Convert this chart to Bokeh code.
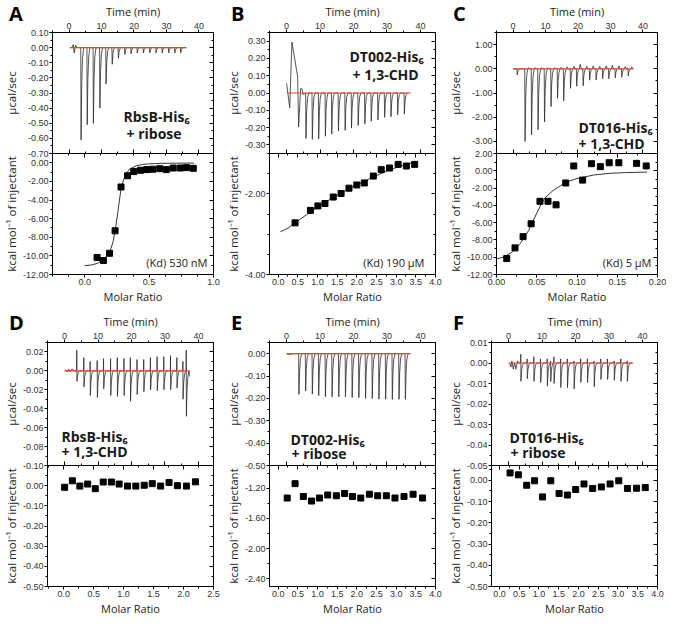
import numpy as np
from bokeh.plotting import figure
from bokeh.models import Range1d, LinearAxis, FixedTicker, Label, NumeralTickFormatter, CustomLabelingPolicy, Div
from bokeh.layouts import row, column
from bokeh.embed import file_html
from bokeh.resources import INLINE

# ---------------- data ----------------
time_ticks = [0, 10, 20, 30, 40]

# Panel A: RbsB-His6 + ribose
a_lead_t = [0.3, 1.0, 1.3, 1.6, 2.0, 2.6]
a_lead_v = [0.0, 0.0, 0.02, -0.035, 0.015, 0.0]
a_inj_t = [3.6, 5.5, 7.4, 9.4, 11.3, 13.2, 15.1, 17.1, 19.0, 20.9, 22.8, 24.8, 26.7, 28.6, 30.6, 32.5, 34.3]
a_inj_peak = [-0.61, -0.51, -0.50, -0.40, -0.24, -0.11, -0.07, -0.045, -0.04, -0.035, -0.035,
              -0.035, -0.035, -0.035, -0.035, -0.035, -0.035]
a_trace_end = 36.2
a_base_t = [0.2, 36.1]
a_base_v = [0.0, 0.0]
a_mr = [0.096, 0.145, 0.193, 0.236, 0.282, 0.333, 0.381, 0.434, 0.482, 0.530, 0.583, 0.634, 0.687, 0.742, 0.790, 0.843]
a_dh = [-10.17, -10.50, -9.72, -7.30, -2.60, -1.39, -0.94, -0.80, -0.73, -0.69, -0.63, -0.73, -0.56, -0.56, -0.52, -0.59]
a_fit_mr = [0.0, 0.05, 0.10, 0.15, 0.18, 0.20, 0.22, 0.24, 0.26, 0.28, 0.30, 0.32, 0.35, 0.40, 0.45, 0.50, 0.60, 0.70, 0.85]
a_fit_dh = [-11.05, -10.98, -10.80, -10.35, -9.85, -9.35, -8.50, -7.00, -5.00, -3.00, -1.90, -1.20, -0.65,
            -0.33, -0.18, -0.11, -0.06, -0.04, -0.03]

# Panel B: DT002-His6 + 1,3-CHD
b_lead_t = [0.0, 0.95, 1.6, 3.3, 3.6, 4.2, 4.5, 5.0]
b_lead_v = [0.055, -0.085, 0.295, 0.095, -0.197, 0.025, 0.028, -0.01]
b_inj_t = [5.7, 7.6, 9.5, 11.5, 13.4, 15.4, 17.4, 19.3, 21.3, 23.3, 25.2, 27.2, 29.2, 31.1, 33.1, 35.1]
b_inj_peak = [-0.263, -0.268, -0.266, -0.25, -0.238, -0.22, -0.216, -0.203, -0.188, -0.178, -0.163,
              -0.156, -0.141, -0.137, -0.126, -0.122]
b_trace_end = 36.4
b_base_t = [0.0, 37.1]
b_base_v = [0.0, 0.0]
b_mr = [0.43, 0.82, 1.01, 1.19, 1.40, 1.60, 1.80, 2.00, 2.19, 2.42, 2.62, 2.83, 3.05, 3.26, 3.47]
b_dh = [-2.72, -2.41, -2.30, -2.24, -2.08, -1.99, -1.86, -1.78, -1.73, -1.56, -1.40, -1.36, -1.27, -1.31, -1.27]
b_fit_mr = [0.06, 0.25, 0.5, 0.75, 1.0, 1.25, 1.5, 1.75, 2.0, 2.25, 2.5, 2.75, 3.0, 3.25, 3.5]
b_fit_dh = [-2.94, -2.85, -2.67, -2.50, -2.33, -2.18, -2.03, -1.90, -1.78, -1.66, -1.55, -1.44, -1.35, -1.27, -1.20]

# Panel C: DT016-His6 + 1,3-CHD
c_lead_t = [0.0]
c_lead_v = [0.0]
c_inj_t = [1.2, 3.6, 5.6, 7.6, 9.6, 11.6, 13.6, 15.5, 17.6, 19.5, 21.5, 23.5, 25.5, 27.5, 29.4, 31.4, 33.4, 35.4]
c_inj_peak = [-0.25, -3.0, -2.73, -2.52, -2.2, -1.56, -1.22, -1.32, -0.81, -0.72, -0.70, -0.47, -0.46,
              -0.41, -0.41, -0.37, -0.35, -0.30]
c_bump = [0.0, 0.05, 0.05, 0.05, 0.05, 0.05, 0.06, 0.08, 0.1, 0.18, 0.1, 0.12, 0.1, 0.12, 0.15, 0.12, 0.1, 0.08]
c_trace_end = 37.0
c_base_t = [0.0, 37.1]
c_base_v = [0.0, 0.0]
c_mr = [0.0127, 0.023, 0.033, 0.043, 0.054, 0.064, 0.074, 0.086, 0.096, 0.107, 0.118, 0.129, 0.140, 0.152, 0.174, 0.186]
c_dh = [-10.15, -8.92, -7.62, -6.13, -3.53, -3.53, -3.94, -1.41, 0.56, -1.08, 0.82, 0.48, 0.93, 0.93, 0.86, 0.56]
c_fit_mr = [0.0, 0.01, 0.02, 0.03, 0.04, 0.045, 0.05, 0.055, 0.06, 0.07, 0.08, 0.09, 0.10, 0.12, 0.14, 0.16, 0.187]
c_fit_dh = [-10.2, -9.95, -9.35, -8.35, -6.9, -5.9, -4.9, -3.95, -3.15, -2.3, -1.7, -1.2, -0.9, -0.5, -0.3, -0.21, -0.15]

# Panel D: RbsB-His6 + 1,3-CHD
d_lead_t = [0.2, 0.8, 1.2, 1.7, 2.2, 2.8]
d_lead_v = [0.001, -0.001, 0.002, -0.001, 0.002, 0.0]
d_inj_t = [3.6, 5.7, 7.6, 9.7, 11.6, 13.7, 15.7, 17.7, 19.6, 21.6, 23.6, 25.6, 27.6, 29.6, 31.6, 33.5, 35.3, 36.3]
d_down = [-0.011, -0.017, -0.026, -0.028, -0.019, -0.026, -0.027, -0.026, -0.032, -0.025, -0.022, -0.020,
          -0.021, -0.020, -0.020, -0.018, -0.030, -0.048]
d_up = [0.022, 0.014, 0.010, 0.011, 0.013, 0.013, 0.014, 0.013, 0.014, 0.012, 0.012, 0.014, 0.015, 0.015,
        0.016, 0.014, 0.010, 0.022]
d_trace_end = 37.3
d_trace_end_v = -0.006
d_base_t = [0.0, 37.3]
d_base_v = [0.0, 0.0]
d_mr = [0.016, 0.145, 0.27, 0.40, 0.527, 0.66, 0.796, 0.925, 1.065, 1.204, 1.344, 1.478, 1.618, 1.758, 1.898, 2.048, 2.199]
d_dh = [-0.008, 0.024, -0.002, 0.008, -0.015, 0.018, 0.018, 0.008, -0.002, -0.002, 0.002, 0.010, -0.002,
        0.016, 0.000, -0.002, 0.019]

# Panel E: DT002-His6 + ribose
e_lead_t = [0.0, 1.0, 2.0]
e_lead_v = [0.0, -0.003, 0.0]
e_inj_t = [3.6, 5.6, 7.6, 9.5, 11.5, 13.5, 15.5, 17.5, 19.5, 21.5, 23.5, 25.5, 27.5, 29.5, 31.5, 33.5, 35.4]
e_inj_peak = [-0.182, -0.167, -0.181, -0.188, -0.193, -0.193, -0.193, -0.193, -0.196, -0.197, -0.2, -0.2,
              -0.203, -0.203, -0.204, -0.204, -0.204]
e_trace_end = 36.6
e_base_t = [0.0, 37.1]
e_base_v = [0.0, 0.0]
e_mr = [0.23, 0.43, 0.64, 0.85, 1.05, 1.26, 1.48, 1.69, 1.89, 2.10, 2.32, 2.53, 2.75, 2.97, 3.20, 3.43, 3.67]
e_dh = [-1.33, -1.14, -1.31, -1.37, -1.33, -1.29, -1.30, -1.27, -1.31, -1.33, -1.28, -1.30, -1.30, -1.33,
        -1.31, -1.28, -1.33]

# Panel F: DT016-His6 + ribose
f_lead_t = [0.3, 0.7, 1.0, 1.4, 1.8, 2.2, 2.7, 3.1]
f_lead_v = [0.0, -0.002, 0.001, -0.003, 0.0, -0.003, 0.001, 0.0]
f_inj_t = [3.6, 5.5, 7.5, 9.5, 11.5, 12.5, 13.5, 15.5, 17.5, 19.5, 21.5, 23.5, 25.5, 27.5, 29.5, 31.5, 33.5, 35.4]
f_down = [-0.0089, -0.0076, -0.0089, -0.0095, -0.0113, -0.009, -0.010, -0.012, -0.012, -0.0127, -0.0095,
          -0.0095, -0.0116, -0.008, -0.008, -0.0084, -0.0089, -0.0089]
f_up = [0.0043, 0.002, 0.003, 0.002, 0.002, 0.001, 0.003, 0.002, 0.002, 0.001, 0.002, 0.002, 0.001, 0.002,
        0.002, 0.001, 0.002, 0.001]
f_trace_end = 37.0
f_base_t = [0.0, 37.2]
f_base_v = [0.0, 0.0]
f_mr = [0.27, 0.48, 0.69, 0.89, 1.09, 1.30, 1.51, 1.72, 1.93, 2.14, 2.36, 2.58, 2.80, 3.02, 3.24, 3.47, 3.69]
f_dh = [0.035, 0.026, -0.023, -0.002, -0.078, -0.002, -0.062, -0.069, -0.043, -0.017, -0.038, -0.031,
        -0.017, -0.002, -0.038, -0.037, -0.034]

# ---------------- styling / layout ----------------
FONT_TICK = "Liberation Sans"
FONT_LAB = "Open Sans"
TRACE_COL = "#2b2b2b"
BASE_COL = "#e4462c"
FW, FH = 166, 123
LB, RB = 47, 9
JOIN = 8
TIME_RANGE = (-5.1, 44.5)
LET_W, LET_H = 28, 28

# normalised injection-peak profile (time offset, fraction of peak)
SPIKE_DT = [0.0, 0.1, 0.3, 0.55, 0.9]
SPIKE_FR = [0.0, 1.0, 0.4, 0.12, 0.0]


def thermogram(lead_t, lead_v, inj_t, down, end_t, end_v=0.0, up=None, bump=None):
    ts, vs = list(lead_t), list(lead_v)
    for i, t0 in enumerate(inj_t):
        ts.append(t0); vs.append(0.0)
        if up is not None:
            ts.append(t0 + 0.05); vs.append(up[i])
        for dt, fr in zip(SPIKE_DT[1:], SPIKE_FR[1:]):
            ts.append(t0 + dt); vs.append(down[i] * fr)
        if bump is not None:
            ts.append(t0 + 1.2); vs.append(bump[i])
            ts.append(t0 + 1.5); vs.append(0.0)
    ts.append(end_t); vs.append(end_v)
    return ts, vs


def minors(lo, hi, step, majors):
    out = []
    k0 = int(np.ceil(lo / step - 1e-9)); k1 = int(np.floor(hi / step + 1e-9))
    for k in range(k0, k1 + 1):
        v = round(k * step, 6)
        if all(abs(v - m) > 1e-9 for m in majors):
            out.append(v)
    return out


def main_axis(ax, label_standoff=1):
    ax.axis_line_color = "black"
    ax.axis_line_width = 1
    ax.major_tick_out = 3
    ax.major_tick_in = 0
    ax.minor_tick_out = 2
    ax.minor_tick_in = 0
    ax.major_tick_line_color = "black"
    ax.minor_tick_line_color = "black"
    ax.major_label_text_font = FONT_TICK
    ax.major_label_text_font_size = "9px"
    ax.major_label_text_color = "#333333"
    ax.major_label_standoff = 1
    ax.axis_label_text_font = FONT_LAB
    ax.axis_label_text_font_style = "normal"
    ax.axis_label_text_font_size = "11.5px"
    ax.axis_label_text_color = "#222222"
    ax.axis_label_standoff = label_standoff


def hidden_axis(p, ticker, side):
    # tick marks only (inward), no labels drawn
    ax = LinearAxis(ticker=ticker,
                    major_label_policy=CustomLabelingPolicy(code="for (const i of indices) indices.unset(i)"))
    ax.axis_line_color = None
    ax.major_tick_in = 4
    ax.major_tick_out = 0
    ax.minor_tick_in = 2
    ax.minor_tick_out = 0
    ax.major_tick_line_color = "black"
    ax.minor_tick_line_color = "black"
    ax.major_label_text_font_size = "1px"
    ax.major_label_standoff = 0
    p.add_layout(ax, side)


def prep(p):
    p.grid.visible = False
    p.outline_line_color = "black"
    p.outline_line_width = 1
    p.background_fill_color = None
    p.border_fill_color = None


def letter_div(text, top):
    return Div(text=text, width=LET_W, height=LET_H,
               margin=(top, 0, -(LET_H + top), LB - 38),
               styles={"font-family": "'Open Sans', sans-serif", "font-size": "20px",
                       "font-weight": "bold", "color": "black", "line-height": "27px",
                       "padding": "0", "overflow": "visible"})


def build(cfg, top_border, letter_top):
    # ---- upper: raw thermogram ----
    pt = figure(width=LB + FW + RB, height=top_border + FH + JOIN,
                x_range=Range1d(*TIME_RANGE), y_range=Range1d(*cfg["ty"]),
                x_axis_location=None, y_axis_location=None,
                output_backend="svg", toolbar_location=None,
                min_border_left=LB, min_border_right=RB,
                min_border_top=top_border, min_border_bottom=JOIN)
    prep(pt)
    tt = FixedTicker(ticks=time_ticks, minor_ticks=minors(TIME_RANGE[0], TIME_RANGE[1], 5, time_ticks))
    ax = LinearAxis(ticker=tt, formatter=NumeralTickFormatter(format="0"), axis_label="Time (min)")
    main_axis(ax, 1)
    ax.axis_label_text_font_size = "11px"
    pt.add_layout(ax, "above")
    hidden_axis(pt, tt, "below")
    yt = FixedTicker(ticks=cfg["tyt"], minor_ticks=minors(cfg["ty"][0], cfg["ty"][1], cfg["tym"], cfg["tyt"]))
    ay = LinearAxis(ticker=yt, formatter=NumeralTickFormatter(format="0.00"), axis_label="µcal/sec")
    main_axis(ay, 1 + cfg["textra"])
    pt.add_layout(ay, "left")
    hidden_axis(pt, yt, "right")
    ts, vs = cfg["trace"]
    pt.line(ts, vs, line_color=TRACE_COL, line_width=0.8)
    pt.line(cfg["base"][0], cfg["base"][1], line_color=BASE_COL, line_width=1.2)
    for text, x, y in cfg["ann"]:
        pt.add_layout(Label(x=x, y=y, x_units="screen", y_units="screen", text=text,
                            text_font=FONT_LAB, text_font_size="14px", text_font_style="bold",
                            text_color="#1a1a1a", text_baseline="alphabetic", text_align="left"))

    # ---- lower: integrated heats ----
    pb = figure(width=LB + FW + RB, height=JOIN + FH + 30,
                x_range=Range1d(*cfg["bx"]), y_range=Range1d(*cfg["by"]),
                x_axis_location=None, y_axis_location=None,
                output_backend="svg", toolbar_location=None,
                min_border_left=LB, min_border_right=RB,
                min_border_top=JOIN, min_border_bottom=30,
                margin=(-2 * JOIN, 0, 0, 0))
    prep(pb)
    xt = FixedTicker(ticks=cfg["bxt"], minor_ticks=minors(cfg["bx"][0], cfg["bx"][1], cfg["bxm"], cfg["bxt"]))
    bx = LinearAxis(ticker=xt, formatter=NumeralTickFormatter(format=cfg["bxf"]), axis_label="Molar Ratio")
    main_axis(bx, 1)
    bx.axis_label_text_font_size = "11px"
    pb.add_layout(bx, "below")
    hidden_axis(pb, xt, "above")
    byt = FixedTicker(ticks=cfg["byt"], minor_ticks=minors(cfg["by"][0], cfg["by"][1], cfg["bym"], cfg["byt"]))
    by = LinearAxis(ticker=byt, formatter=NumeralTickFormatter(format="0.00"),
                    axis_label="kcal mol⁻¹ of injectant")
    main_axis(by, 1 + cfg["bextra"])
    pb.add_layout(by, "left")
    hidden_axis(pb, byt, "right")
    if cfg.get("fit") is not None:
        pb.line(cfg["fit"][0], cfg["fit"][1], line_color="black", line_width=0.8)
    pb.scatter(cfg["pts"][0], cfg["pts"][1], marker="square", size=6, color="black")
    if cfg.get("kd"):
        pb.add_layout(Label(x=FW - 11, y=12, x_units="screen", y_units="screen", text=cfg["kd"],
                            text_font=FONT_LAB, text_font_size="11px", text_color="#222222",
                            text_baseline="alphabetic", text_align="right"))
    return column(letter_div(cfg["letter"], letter_top), pt, pb)


panels = [
    dict(letter="A", ty=(-0.70, 0.10), tyt=[0.1, 0.0, -0.1, -0.2, -0.3, -0.4, -0.5, -0.6, -0.7], tym=0.05,
         trace=thermogram(a_lead_t, a_lead_v, a_inj_t, a_inj_peak, a_trace_end), base=(a_base_t, a_base_v),
         bx=(-0.25, 1.0), bxt=[0.0, 0.5, 1.0], bxm=0.125, bxf="0.0",
         by=(-12.0, 1.0), byt=[0, -2, -4, -6, -8, -10, -12], bym=1.0,
         pts=(a_mr, a_dh), fit=(a_fit_mr, a_fit_dh), textra=5, bextra=0,
         ann=[("RbsB-His₆", 71, 37.4), ("+ ribose", 74, 19.7)], kd="(Kd) 530 nM"),
    dict(letter="B", ty=(-0.35, 0.35), tyt=[0.3, 0.2, 0.1, 0.0, -0.1, -0.2, -0.3], tym=0.05,
         trace=thermogram(b_lead_t, b_lead_v, b_inj_t, b_inj_peak, b_trace_end), base=(b_base_t, b_base_v),
         bx=(-0.22, 4.0), bxt=[0.0, 0.5, 1.0, 1.5, 2.0, 2.5, 3.0, 3.5, 4.0], bxm=0.25, bxf="0.0",
         by=(-4.0, -1.0), byt=[-2.0, -4.0], bym=0.5,
         pts=(b_mr, b_dh), fit=(b_fit_mr, b_fit_dh), textra=0, bextra=0,
         ann=[("DT002-His₆", 80, 97.4), ("+ 1,3-CHD", 83, 78.7)], kd="(Kd) 190 µM"),
    dict(letter="C", ty=(-3.5, 1.5), tyt=[1.0, 0.0, -1.0, -2.0, -3.0], tym=0.5,
         trace=thermogram(c_lead_t, c_lead_v, c_inj_t, c_inj_peak, c_trace_end, bump=c_bump),
         base=(c_base_t, c_base_v),
         bx=(0.0, 0.2), bxt=[0.0, 0.05, 0.10, 0.15, 0.20], bxm=0.025, bxf="0.00",
         by=(-12.0, 2.0), byt=[2, 0, -2, -4, -6, -8, -10, -12], bym=1.0,
         pts=(c_mr, c_dh), fit=(c_fit_mr, c_fit_dh), textra=5, bextra=0,
         ann=[("DT016-His₆", 82, 25.6), ("+ 1,3-CHD", 82, 9.8)], kd="(Kd) 5 µM"),
    dict(letter="D", ty=(-0.10, 0.03), tyt=[0.02, 0.0, -0.02, -0.04, -0.06, -0.08, -0.10], tym=0.01,
         trace=thermogram(d_lead_t, d_lead_v, d_inj_t, d_down, d_trace_end, d_trace_end_v, up=d_up),
         base=(d_base_t, d_base_v),
         bx=(-0.27, 2.5), bxt=[0.0, 0.5, 1.0, 1.5, 2.0, 2.5], bxm=0.25, bxf="0.0",
         by=(-0.5, 0.1), byt=[0.0, -0.1, -0.2, -0.3, -0.4, -0.5], bym=0.05,
         pts=(d_mr, d_dh), fit=None, textra=0, bextra=0,
         ann=[("RbsB-His₆", 14, 29.5), ("+ 1,3-CHD", 14, 14.5)], kd=None),
    dict(letter="E", ty=(-0.50, 0.05), tyt=[0.0, -0.1, -0.2, -0.3, -0.4, -0.5], tym=0.05,
         trace=thermogram(e_lead_t, e_lead_v, e_inj_t, e_inj_peak, e_trace_end), base=(e_base_t, e_base_v),
         bx=(-0.22, 4.0), bxt=[0.0, 0.5, 1.0, 1.5, 2.0, 2.5, 3.0, 3.5, 4.0], bxm=0.25, bxf="0.0",
         by=(-2.5, -0.9), byt=[-1.2, -1.6, -2.0, -2.4], bym=0.2,
         pts=(e_mr, e_dh), fit=None, textra=0, bextra=0,
         ann=[("DT002-His₆", 21, 25.6), ("+ ribose", 22, 11.8)], kd=None),
    dict(letter="F", ty=(-0.05, 0.01), tyt=[0.01, 0.0, -0.01, -0.02, -0.03, -0.04, -0.05], tym=0.005,
         trace=thermogram(f_lead_t, f_lead_v, f_inj_t, f_down, f_trace_end, up=f_up),
         base=(f_base_t, f_base_v),
         bx=(-0.2, 4.0), bxt=[0.0, 0.5, 1.0, 1.5, 2.0, 2.5, 3.0, 3.5, 4.0], bxm=0.25, bxf="0.0",
         by=(-0.5, 0.07), byt=[0.0, -0.1, -0.2, -0.3, -0.4, -0.5], bym=0.05,
         pts=(f_mr, f_dh), fit=None, textra=0, bextra=0,
         ann=[("DT016-His₆", 18, 27.6), ("+ ribose", 19, 12.8)], kd=None),
]

row1 = row(*[build(c, 30, 0) for c in panels[:3]])
row2 = row(*[build(c, 36, 3) for c in panels[3:]])
layout = column(row1, row2)

with open("out.html", "w", encoding="utf-8") as fh:
    fh.write(file_html(layout, INLINE))
